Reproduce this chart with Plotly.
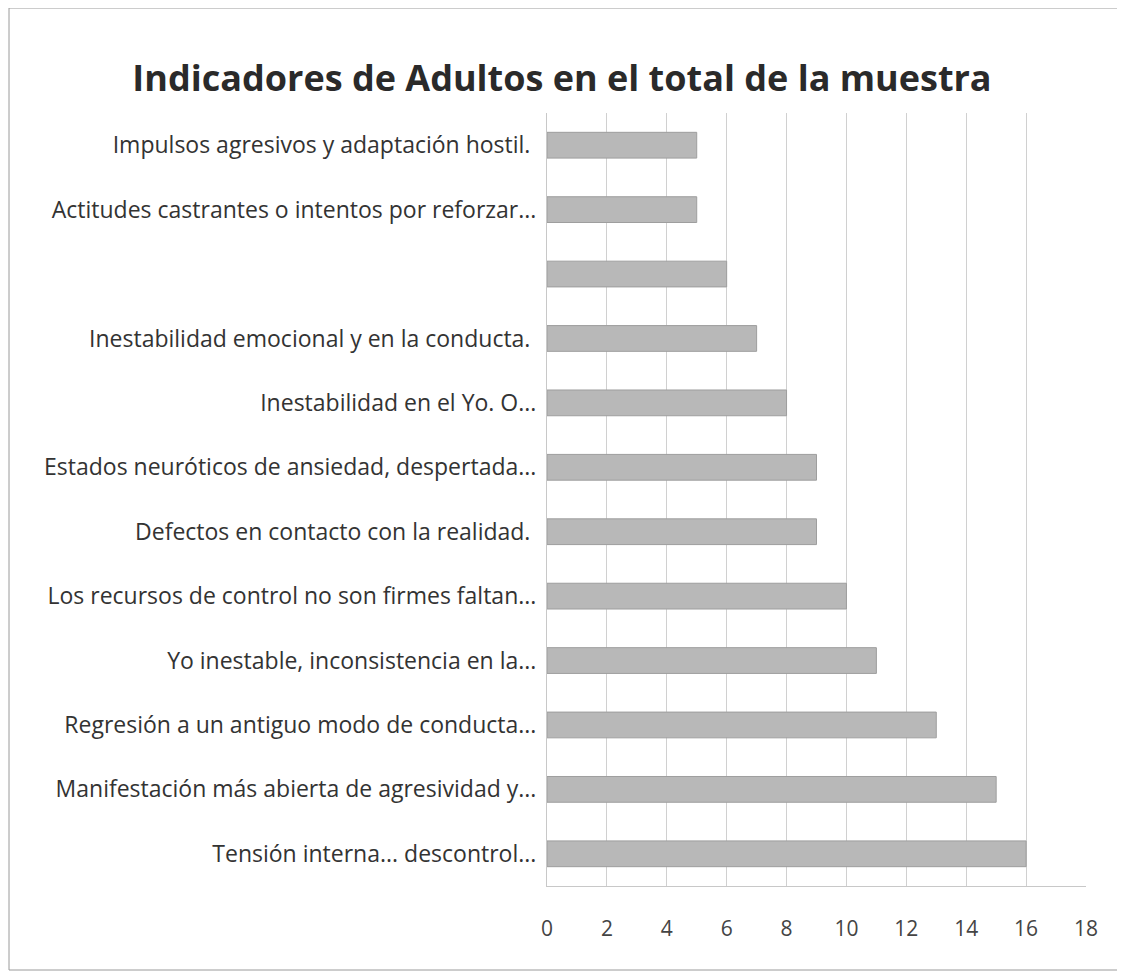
import plotly.graph_objects as go

categories = [
    "Tensión interna... descontrol...",
    "Manifestación más abierta de agresividad y...",
    "Regresión a un antiguo modo de conducta...",
    "Yo inestable, inconsistencia en la...",
    "Los recursos de control no son firmes faltan...",
    "Defectos en contacto con la realidad. ",
    "Estados neuróticos de ansiedad, despertada...",
    "Inestabilidad en el Yo. O...",
    "Inestabilidad emocional y en la conducta. ",
    " ",
    "Actitudes castrantes o intentos por reforzar...",
    "Impulsos agresivos y adaptación hostil. ",
]
values = [16, 15, 13, 11, 10, 9, 9, 8, 7, 6, 5, 5]
x_ticks = [0, 2, 4, 6, 8, 10, 12, 14, 16, 18]

# page offset of 8px (body margin) accounted for
W, H = 1117, 966
L, R, T, B = 539, 1078, 105, 878

fig = go.Figure(go.Bar(
    x=values, y=categories, orientation="h",
    marker=dict(color="#b8b8b8", line=dict(color="#9e9e9e", width=1)),
))

fig.update_layout(
    width=W, height=H,
    margin=dict(l=L, r=W - R, t=T, b=H - B),
    paper_bgcolor="white", plot_bgcolor="white",
    bargap=0.6,
    showlegend=False,
    font=dict(family="'Open Sans', sans-serif", color="#333333"),
    title=dict(text="<b>Indicadores de Adultos en el total de la muestra</b>",
               x=554 / W, xanchor="center", y=1 - 70 / H, yanchor="middle",
               font=dict(size=36, color="#2a2a2a")),
    xaxis=dict(range=[0, 18], tickvals=x_ticks, showgrid=True, gridcolor="#d0d0d0",
               gridwidth=1, zeroline=False, showline=True, linecolor="#c8c8c8",
               ticks="", ticklabelstandoff=24, tickfont=dict(size=21, color="#444444")),
    yaxis=dict(type="category", categoryorder="array", categoryarray=categories,
               showline=True, linecolor="#c8c8c8", showgrid=False, ticks="",
               ticklabelstandoff=5, tickfont=dict(size=23, color="#333333")),
    shapes=[dict(type="rect", xref="paper", yref="paper",
                 x0=(1 - L) / (R - L), x1=(1112 - L) / (R - L),
                 y0=(B - 962) / (B - T), y1=(B - 0) / (B - T),
                 line=dict(color="#9a9a9a", width=1))],
)

fig.write_html("out.html")
